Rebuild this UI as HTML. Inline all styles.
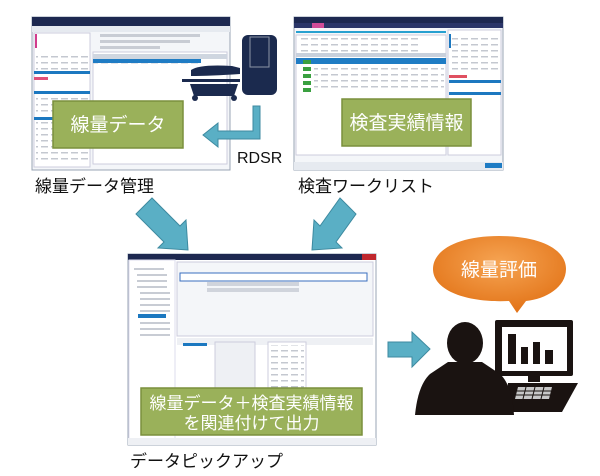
<!DOCTYPE html>
<html><head><meta charset="utf-8"><style>
html,body{margin:0;padding:0;background:#fff;width:600px;height:476px;overflow:hidden}
svg{display:block}
text{font-family:"Liberation Sans","Noto Sans CJK JP",sans-serif}
</style></head><body>
<svg width="600" height="476" viewBox="0 0 600 476" xmlns="http://www.w3.org/2000/svg">
<defs>
<pattern id="ln" width="10" height="6" patternUnits="userSpaceOnUse"><rect x="1" y="2" width="7" height="1.5" fill="#c4c8d0"/></pattern>
<radialGradient id="og" cx="50%" cy="35%" r="65%"><stop offset="0" stop-color="#f6a453"/><stop offset="1" stop-color="#e27317"/></radialGradient>
</defs>
<!-- Screenshot 1 -->
<rect x="32" y="17" width="198" height="153" fill="#f4f6f9" stroke="#9aa4b4"/>
<rect x="32" y="17" width="198" height="9" fill="#1d2850"/>
<rect x="32" y="26" width="198" height="6" fill="#e6eaf0"/>
<rect x="34" y="33" width="56" height="134" fill="#fff" stroke="#ccd"/>
<rect x="36" y="52" width="52" height="18" fill="url(#ln)"/>
<rect x="36" y="96" width="52" height="20" fill="url(#ln)"/>
<rect x="36" y="122" width="52" height="40" fill="url(#ln)"/>
<rect x="35" y="34" width="2" height="14" fill="#d23c8c"/>
<rect x="34" y="71" width="56" height="3" fill="#1c78c0"/>
<rect x="34" y="77" width="14" height="3" fill="#e0507a"/>
<rect x="34" y="91" width="56" height="3" fill="#1c78c0"/>
<rect x="34" y="117" width="56" height="3" fill="#1c78c0"/>
<rect x="93" y="52" width="134" height="112" fill="#fff" stroke="#ccd"/>
<rect x="93" y="54" width="134" height="5" fill="#cfd6e0"/>
<rect x="93" y="59" width="108" height="4" fill="#1f7cc4"/>
<rect x="93" y="63" width="108" height="4" fill="url(#ln)"/>
<g fill="#c8ccd4"><rect x="100" y="34" width="100" height="3"/><rect x="100" y="40" width="90" height="3"/><rect x="100" y="46" width="60" height="3"/></g>
<!-- Screenshot 2 -->
<rect x="294" y="17" width="209" height="153" fill="#f4f6f9" stroke="#9aa4b4"/>
<rect x="294" y="17" width="209" height="6" fill="#1d2850"/>
<rect x="294" y="23" width="209" height="5" fill="#2a3568"/>
<rect x="312" y="23" width="12" height="5" fill="#d04c98"/>
<rect x="296" y="31" width="150" height="2" fill="#27a0d0"/>
<rect x="296" y="35" width="150" height="120" fill="#fff" stroke="#ccd"/>
<rect x="300" y="36" width="120" height="16" fill="url(#ln)"/>
<rect x="296" y="53" width="150" height="4" fill="#c8d0dc"/>
<rect x="296" y="58" width="150" height="6" fill="#1f7cc4"/>
<rect x="314" y="66" width="130" height="26" fill="url(#ln)"/>
<g fill="#3aa040"><rect x="303" y="60" width="8" height="4"/><rect x="303" y="67" width="8" height="4"/><rect x="303" y="74" width="8" height="4"/><rect x="303" y="81" width="8" height="4"/><rect x="303" y="88" width="8" height="4"/></g>
<rect x="448" y="30" width="53" height="125" fill="#fff" stroke="#ccd"/>
<rect x="452" y="34" width="46" height="40" fill="url(#ln)"/>
<rect x="449" y="34" width="2" height="14" fill="#1c78c0"/>
<rect x="449" y="80" width="52" height="3" fill="#1c78c0"/>
<rect x="449" y="92" width="52" height="3" fill="#1c78c0"/>
<rect x="449" y="75" width="18" height="3" fill="#e05060"/>
<rect x="294" y="162" width="209" height="8" fill="#e6eaf0"/>
<rect x="485" y="163" width="17" height="5" fill="#1f7cc4"/>
<!-- machine icon -->
<g fill="#1b2a4e">
<rect x="242" y="35" width="35" height="60" rx="6"/>
<path d="M191 70 Q200 64 232 66 L240 68 L240 74 Q210 76 191 76 Z"/>
<rect x="182" y="79" width="58" height="3"/>
<path d="M190 84 L238 84 L234 96 L194 96 Z"/>
<circle cx="195" cy="98" r="3"/><circle cx="234" cy="98" r="3"/>
</g>
<rect x="250" y="37" width="19" height="30" fill="none" stroke="#fff" stroke-width="1" opacity=".5"/>
<!-- RDSR arrow -->
<path d="M253 106 L260 106 L260 139 L218 139 L218 147 L203 135 L218 123 L218 131 L253 131 Z" fill="#5aafc5" stroke="#3d8aa0" stroke-width="1"/>
<text x="237" y="163" font-size="16" fill="#111">RDSR</text>
<!-- green boxes -->
<rect x="53" y="101" width="130" height="47" fill="#9ab15a" stroke="#7a8f3c" stroke-width="1.5"/>
<text x="118" y="131" font-size="19" fill="#fff" text-anchor="middle">線量データ</text>
<rect x="342" y="99" width="129" height="47" fill="#9ab15a" stroke="#7a8f3c" stroke-width="1.5"/>
<text x="406.5" y="129" font-size="19" fill="#fff" text-anchor="middle">検査実績情報</text>
<text x="35" y="192" font-size="17" fill="#111">線量データ管理</text>
<text x="298" y="192" font-size="17" fill="#111">検査ワークリスト</text>
<!-- diagonal arrows -->
<g fill="#5aafc5" stroke="#3d8aa0" stroke-width="1">
<path d="M145 205 L152 198 L180 226 L186 220 L188 250 L158 248 L164 242 L136 214 Z"/>
<path d="M347 205 L340 198 L320 226 L314 220 L312 250 L342 248 L336 242 L356 214 Z"/>
</g>
<!-- Screenshot 3 -->
<rect x="128" y="254" width="248" height="191" fill="#fff" stroke="#9aa4b4"/>
<rect x="128" y="254" width="248" height="6" fill="#1d2850"/>
<rect x="362" y="254" width="14" height="6" fill="#c0272d"/>
<rect x="129" y="260" width="46" height="184" fill="#fff" stroke="#dde"/>
<g fill="#c8ccd4"><rect x="134" y="268" width="30" height="2"/><rect x="137" y="274" width="30" height="2"/><rect x="137" y="280" width="30" height="2"/><rect x="137" y="286" width="30" height="2"/><rect x="140" y="292" width="30" height="2"/><rect x="140" y="298" width="30" height="2"/><rect x="140" y="304" width="30" height="2"/><rect x="140" y="310" width="30" height="2"/><rect x="140" y="322" width="30" height="2"/><rect x="140" y="328" width="30" height="2"/><rect x="140" y="334" width="30" height="2"/></g>
<rect x="138" y="314" width="28" height="4" fill="#1c78c0"/>
<rect x="177" y="262" width="196" height="74" fill="#f4f6f9" stroke="#ccd"/>
<rect x="180" y="273" width="187" height="8" fill="#fff" stroke="#3a6fbf"/>
<rect x="207" y="282" width="92" height="4" fill="#d0d4dc"/>
<rect x="207" y="288" width="92" height="4" fill="#d0d4dc"/>
<rect x="177" y="338" width="196" height="7" fill="#eef0f4"/>
<rect x="183" y="343" width="24" height="3" fill="#1c78c0"/>
<rect x="215" y="342" width="40" height="90" fill="#eef0f4" stroke="#ccd"/>
<rect x="268" y="342" width="38" height="55" fill="#fff" stroke="#ccd"/>
<rect x="270" y="345" width="34" height="50" fill="url(#ln)"/>
<rect x="128" y="438" width="248" height="7" fill="#eef0f4"/>
<rect x="141" y="388" width="221" height="47" fill="#9ab15a" stroke="#7a8f3c" stroke-width="1.5"/>
<text x="251.5" y="409" font-size="17" fill="#fff" text-anchor="middle">線量データ＋検査実績情報</text>
<text x="251.5" y="429" font-size="17" fill="#fff" text-anchor="middle">を関連付けて出力</text>
<text x="130" y="467" font-size="17" fill="#111">データピックアップ</text>
<!-- right arrow -->
<path d="M388 342 L412 342 L412 332 L430 349 L412 367 L412 357 L388 357 Z" fill="#5aafc5" stroke="#3d8aa0" stroke-width="1"/>
<!-- bubble -->
<path d="M499 236 C542 236 566 250 566 269 C566 287 546 299 526 301 L517 313 L509 301 C468 303 433 291 433 269 C433 250 458 236 499 236 Z" fill="url(#og)"/>
<text x="499" y="276" font-size="19" fill="#fff" text-anchor="middle">線量評価</text>
<!-- person + monitor -->
<g fill="#1a1311">
<rect x="495" y="320" width="78" height="56" rx="2"/>
<rect x="528" y="376" width="12" height="6"/>
<path d="M508 383 L578 383 L562 412 L506 412 Z"/>
<ellipse cx="465" cy="343" rx="18" ry="21"/>
<path d="M448 362 L482 362 L500 374 Q512 385 514 415 L415 415 Q418 385 430 374 Z"/>
</g>
<rect x="502" y="327" width="65" height="44" fill="#fff"/>
<g fill="#1a1311"><rect x="508" y="334" width="8" height="30"/><rect x="521" y="347" width="7" height="17"/><rect x="533" y="342" width="7" height="22"/><rect x="545" y="350" width="8" height="14"/></g>
<g fill="#c8c8c8"><path d="M518 387 L552 387 L549 399 L515 399 Z"/></g>
<g stroke="#1a1311" stroke-width="1"><line x1="517" y1="391" x2="551" y2="391"/><line x1="516" y1="395" x2="550" y2="395"/><line x1="526" y1="387" x2="523" y2="399"/><line x1="535" y1="387" x2="532" y2="399"/><line x1="544" y1="387" x2="541" y2="399"/></g>
</svg>
</body></html>
